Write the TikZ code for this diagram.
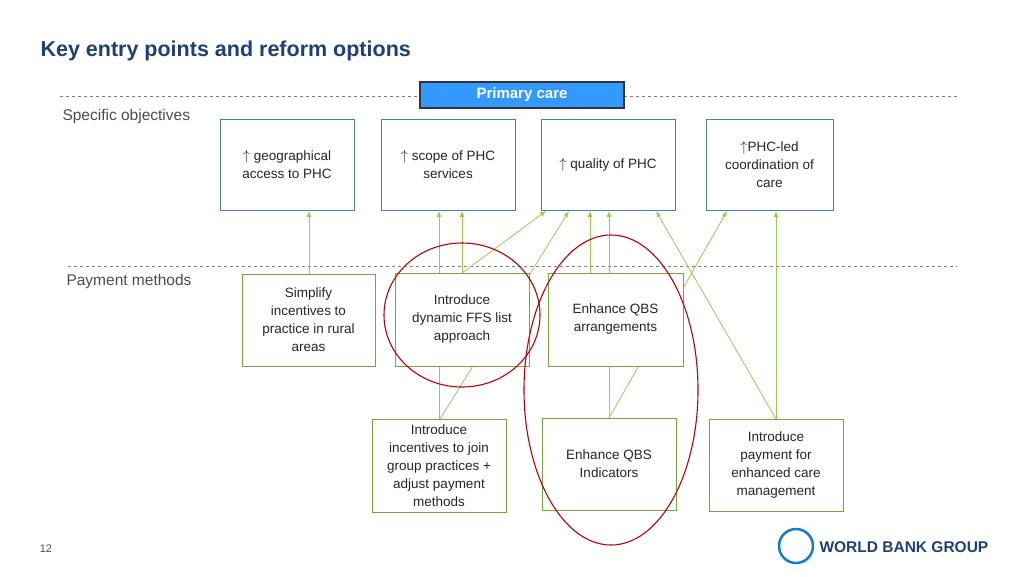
\documentclass[tikz,border=0pt]{standalone}
\usepackage{fontspec}
\setmainfont{Liberation Sans}
\usetikzlibrary{arrows.meta}
\definecolor{tblue}{HTML}{1F3F7A}
\definecolor{bblue}{HTML}{4A7EBB}
\definecolor{lgreen}{HTML}{92D050}
\definecolor{dred}{HTML}{C00000}
\definecolor{pcblue}{HTML}{3399FF}
\begin{document}
\begin{tikzpicture}[x=1pt,y=-1pt,
  obj/.style={draw=bblue,line width=0.8pt,fill=white,align=center,font=\fontsize{13.5}{18}\selectfont,text=black!85},
  pay/.style={draw=lgreen!80!black,line width=0.8pt,fill=white,align=center,font=\fontsize{13.5}{18}\selectfont,text=black!85},
  arr/.style={draw=lgreen,line width=0.8pt,-{Latex[length=6pt,width=5pt]}}]
\useasboundingbox (0,0) rectangle (1024,576);
\node[anchor=west,font=\bfseries\fontsize{21.5}{24}\selectfont,text=tblue] (title) at (37,51) {Key entry points and reform options};
\draw[dashed,gray] (60,96) -- (957,96);
\draw[dashed,gray] (68,266) -- (957,266);
\node[draw=black!80,line width=1.2pt,fill=pcblue,minimum width=204pt,minimum height=26pt,font=\bfseries\fontsize{15}{18}\selectfont,text=white] (pc) at (522,95) {Primary care};
\node[anchor=west,font=\fontsize{15.5}{18}\selectfont,text=black!70] (so) at (59,116) {Specific objectives};
\node[anchor=west,font=\fontsize{15.5}{18}\selectfont,text=black!70] (pm) at (63,281) {Payment methods};
\coordinate (g1) at (439,419); \coordinate (g2) at (440,419);
\coordinate (qi) at (609,418);
\coordinate (pt) at (776,419);
\draw[arr] (309,274) coordinate (st) -- (309,211);
\draw[arr] (g1) -- (439,211);
\draw[arr] (462,273) coordinate (ft) -- (462,211);
\draw[arr] (ft) -- (546,211);
\draw[arr] (g2) -- (569,211);
\draw[arr] (590,273) -- (590,211);
\draw[arr] (qi) -- (609,211);
\draw[arr] (qi) -- (727,211);
\draw[arr] (pt) -- (656,211);
\draw[arr] (pt) -- (776,211);
\node[obj,minimum width=134pt,minimum height=91pt] (o1) at (287,164.5) {$\uparrow$ geographical\\access to PHC};
\node[obj,minimum width=134pt,minimum height=91pt] (o2) at (448,164.5) {$\uparrow$ scope of PHC\\services};
\node[obj,minimum width=134pt,minimum height=91pt] (o3) at (608,164.5) {$\uparrow$ quality of PHC};
\node[obj,minimum width=127pt,minimum height=91pt] (o4) at (769.5,164.5) {$\uparrow$PHC-led\\coordination of\\care};
\node[pay,minimum width=133pt,minimum height=92pt] (p1) at (308.5,320) {Simplify\\incentives to\\practice in rural\\areas};
\node[pay,minimum width=134pt,minimum height=93pt] (p2) at (462,319.5) {Introduce\\dynamic FFS list\\approach};
\node[pay,minimum width=135pt,minimum height=93pt] (p3) at (615.5,319.5) {Enhance QBS\\arrangements};
\node[pay,minimum width=134pt,minimum height=93pt] (b1) at (439,465.5) {Introduce\\incentives to join\\group practices +\\adjust payment\\methods};
\node[pay,minimum width=134pt,minimum height=92pt] (b2) at (609,464) {Enhance QBS\\Indicators};
\node[pay,minimum width=134pt,minimum height=92pt] (b3) at (776,465) {Introduce\\payment for\\enhanced care\\management};
\draw[dred,line width=1.1pt] (462,315) ellipse [x radius=78,y radius=72];
\draw[dred,line width=1.1pt] (611,390) ellipse [x radius=87,y radius=155];
\node[font=\fontsize{11}{13}\selectfont,text=black!70] (pg) at (46,549) {12};
\node[circle,draw=cyan!60!blue,line width=2.5pt,minimum size=34pt] (globe) at (796,546) {};
\node[anchor=west,font=\bfseries\fontsize{15.5}{18}\selectfont,text=tblue] (wb) at (816,547) {WORLD BANK GROUP};
\end{tikzpicture}
\end{document}
